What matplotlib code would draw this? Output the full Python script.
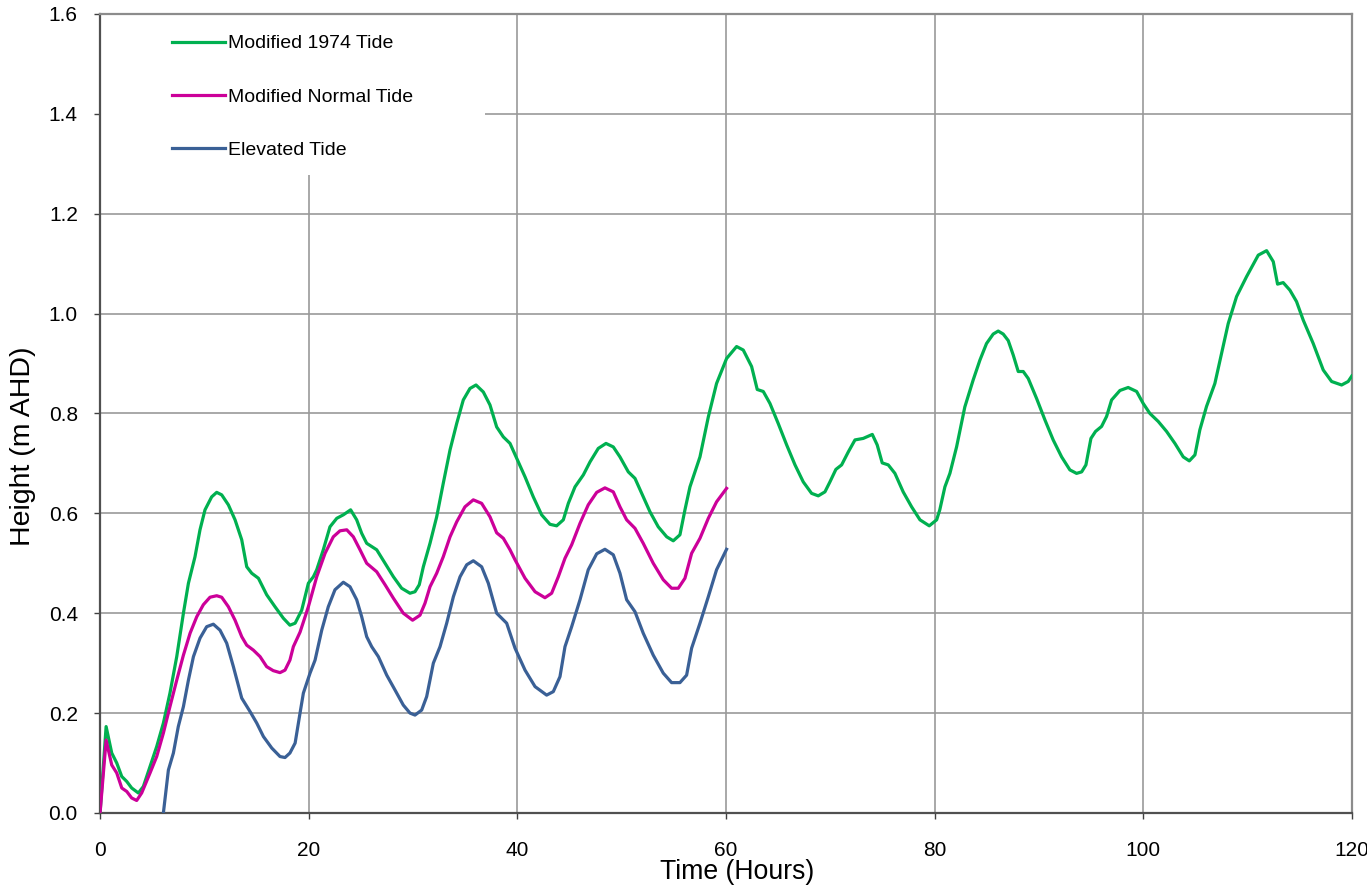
import matplotlib
matplotlib.use("Agg")
import matplotlib.pyplot as plt
from matplotlib.patches import Rectangle

plt.rcParams['font.family'] = ['Liberation Sans', 'DejaVu Sans']

# Modified 1974 Tide
t_1974 = [0, 0.58, 1.12, 1.6, 2.08, 2.56, 3.03, 3.67, 4.15, 4.79, 5.43, 6.07, 6.7, 7.35,
          7.99, 8.47, 9.1, 9.58, 10.06, 10.7, 11.18, 11.66, 12.3, 12.94, 13.58, 14.06,
          14.54, 15.18, 15.97, 16.77, 17.57, 18.2, 18.7, 19.33, 19.97, 20.45, 20.77,
          21.4, 22.04, 22.69, 23.32, 24.02, 24.6, 25.08, 25.56, 26.52, 27.32, 28.12,
          28.91, 29.71, 30.19, 30.6, 30.99, 31.63, 32.27, 32.9, 33.55, 34.19, 34.82,
          35.46, 36.04, 36.74, 37.38, 38.02, 38.66, 39.3, 39.94, 40.74, 41.53, 42.33,
          43.13, 43.77, 44.41, 44.89, 45.53, 46.33, 46.97, 47.76, 48.5, 49.2, 49.84,
          50.64, 51.28, 51.92, 52.72, 53.51, 54.32, 54.95, 55.59, 56.07, 56.55, 57.51,
          58.31, 59.1, 60.06, 61.02, 61.66, 62.46, 63.0, 63.58, 64.22, 65.01, 65.82,
          66.62, 67.41, 68.21, 68.85, 69.49, 69.97, 70.54, 71.09, 71.73, 72.37, 73.16,
          74.03, 74.5, 74.98, 75.56, 76.2, 76.99, 77.8, 78.6, 79.49, 80.2, 80.5, 80.99,
          81.47, 82.11, 82.9, 83.7, 84.35, 84.98, 85.62, 86.1, 86.58, 87.06, 87.54,
          88.02, 88.5, 88.98, 89.78, 90.58, 91.37, 92.18, 92.97, 93.61, 94.1, 94.51,
          94.99, 95.43, 96.01, 96.49, 96.97, 97.77, 98.56, 99.37, 100.0, 100.64,
          101.44, 102.24, 103.04, 103.84, 104.42, 104.96, 105.43, 106.07, 106.87,
          107.51, 108.15, 108.95, 109.91, 111.03, 111.83, 112.47, 112.88, 113.42,
          114.06, 114.7, 115.34, 116.3, 117.26, 118.06, 119.02, 119.65, 120.0]
h_1974 = [0, 0.173, 0.12, 0.10, 0.073, 0.063, 0.05, 0.04, 0.053, 0.093, 0.133, 0.18, 0.24,
          0.313, 0.40, 0.46, 0.513, 0.567, 0.607, 0.633, 0.642, 0.637, 0.617, 0.587,
          0.547, 0.493, 0.48, 0.47, 0.437, 0.413, 0.39, 0.376, 0.38, 0.406, 0.46, 0.473,
          0.487, 0.527, 0.573, 0.59, 0.597, 0.607, 0.587, 0.56, 0.54, 0.527, 0.50, 0.473,
          0.45, 0.44, 0.443, 0.457, 0.493, 0.54, 0.593, 0.66, 0.727, 0.78, 0.827, 0.85,
          0.857, 0.843, 0.817, 0.773, 0.753, 0.74, 0.71, 0.673, 0.633, 0.597, 0.578,
          0.575, 0.587, 0.62, 0.653, 0.677, 0.703, 0.73, 0.74, 0.733, 0.713, 0.683, 0.67,
          0.64, 0.603, 0.573, 0.553, 0.545, 0.557, 0.607, 0.653, 0.713, 0.793, 0.86,
          0.91, 0.934, 0.927, 0.894, 0.848, 0.844, 0.82, 0.78, 0.737, 0.697, 0.663, 0.64,
          0.635, 0.643, 0.663, 0.688, 0.697, 0.723, 0.747, 0.75, 0.758, 0.737, 0.701,
          0.697, 0.68, 0.643, 0.613, 0.587, 0.575, 0.587, 0.607, 0.653, 0.68, 0.733,
          0.813, 0.867, 0.907, 0.94, 0.959, 0.965, 0.959, 0.946, 0.917, 0.884, 0.884,
          0.87, 0.83, 0.787, 0.747, 0.713, 0.687, 0.68, 0.683, 0.697, 0.75, 0.764, 0.774,
          0.794, 0.827, 0.846, 0.852, 0.844, 0.82, 0.80, 0.784, 0.764, 0.74, 0.713,
          0.705, 0.717, 0.767, 0.814, 0.86, 0.92, 0.98, 1.034, 1.074, 1.117, 1.126,
          1.104, 1.059, 1.062, 1.047, 1.024, 0.987, 0.94, 0.887, 0.864, 0.857, 0.864,
          0.875]

# Modified Normal Tide
t_normal = [0, 0.58, 1.12, 1.6, 2.08, 2.56, 3.03, 3.51, 3.99, 4.79, 5.43, 6.07, 6.7, 7.35,
            7.99, 8.63, 9.27, 9.9, 10.54, 11.18, 11.66, 12.3, 12.94, 13.58, 14.06, 14.7,
            15.34, 15.97, 16.6, 17.25, 17.73, 18.2, 18.53, 19.17, 19.97, 20.77, 21.57,
            22.36, 23.0, 23.65, 24.28, 24.92, 25.56, 26.52, 27.32, 28.12, 29.07, 29.96,
            30.67, 31.15, 31.63, 32.27, 32.9, 33.55, 34.19, 34.98, 35.78, 36.58, 37.38,
            38.02, 38.66, 39.3, 39.78, 40.74, 41.7, 42.65, 43.29, 43.93, 44.57, 45.21,
            46.01, 46.8, 47.61, 48.4, 49.2, 49.84, 50.48, 51.28, 52.07, 53.03, 53.99,
            54.79, 55.43, 56.07, 56.71, 57.51, 58.31, 59.1, 60.06]
h_normal = [0, 0.146, 0.096, 0.08, 0.05, 0.043, 0.03, 0.025, 0.04, 0.08, 0.113, 0.16,
            0.213, 0.266, 0.316, 0.36, 0.393, 0.417, 0.432, 0.435, 0.432, 0.413, 0.386,
            0.353, 0.336, 0.326, 0.313, 0.293, 0.285, 0.281, 0.286, 0.306, 0.333, 0.362,
            0.413, 0.473, 0.52, 0.553, 0.565, 0.567, 0.553, 0.527, 0.50, 0.483, 0.457,
            0.43, 0.40, 0.386, 0.396, 0.42, 0.453, 0.48, 0.513, 0.553, 0.583, 0.613,
            0.627, 0.62, 0.593, 0.561, 0.55, 0.527, 0.507, 0.47, 0.443, 0.431, 0.44,
            0.473, 0.51, 0.537, 0.58, 0.617, 0.642, 0.651, 0.643, 0.613, 0.587, 0.57,
            0.54, 0.50, 0.467, 0.45, 0.45, 0.47, 0.52, 0.55, 0.59, 0.623, 0.65]

# Elevated Tide
t_elev = [6.07, 6.55, 7.03, 7.5, 7.99, 8.47, 8.95, 9.58, 10.22, 10.86, 11.5, 12.14,
          12.78, 13.58, 14.38, 15.02, 15.66, 16.46, 17.25, 17.73, 18.2, 18.7, 19.17,
          19.49, 20.13, 20.61, 21.25, 21.88, 22.52, 23.32, 23.96, 24.6, 25.08, 25.56,
          26.04, 26.68, 27.48, 28.28, 29.07, 29.71, 30.19, 30.83, 31.31, 31.95, 32.59,
          33.23, 33.87, 34.51, 35.15, 35.78, 36.58, 37.22, 38.02, 38.98, 39.78, 40.74,
          41.7, 42.81, 43.45, 44.09, 44.57, 45.21, 46.01, 46.8, 47.61, 48.4, 49.2,
          49.84, 50.48, 51.28, 52.07, 53.03, 53.99, 54.79, 55.59, 56.23, 56.71, 57.51,
          58.31, 59.1, 60.06]
h_elev = [0, 0.086, 0.12, 0.173, 0.213, 0.266, 0.313, 0.35, 0.373, 0.378, 0.366, 0.34,
          0.293, 0.23, 0.203, 0.18, 0.153, 0.13, 0.113, 0.111, 0.12, 0.14, 0.2, 0.24,
          0.28, 0.306, 0.366, 0.413, 0.447, 0.462, 0.453, 0.427, 0.393, 0.353, 0.333,
          0.313, 0.276, 0.246, 0.216, 0.2, 0.196, 0.206, 0.233, 0.3, 0.333, 0.38, 0.433,
          0.473, 0.497, 0.505, 0.493, 0.46, 0.40, 0.38, 0.33, 0.286, 0.253, 0.236, 0.243,
          0.273, 0.333, 0.373, 0.427, 0.487, 0.519, 0.528, 0.517, 0.48, 0.427, 0.403,
          0.36, 0.316, 0.28, 0.261, 0.261, 0.276, 0.33, 0.38, 0.433, 0.487, 0.528]

x_ticks = [0, 20, 40, 60, 80, 100, 120]
y_ticks = [0.0, 0.2, 0.4, 0.6, 0.8, 1.0, 1.2, 1.4, 1.6]

fig = plt.figure(figsize=(13.67, 8.88), dpi=100)
ax = fig.add_axes([0.0732, 0.0845, 0.9157, 0.8998])

ax.plot(t_1974, h_1974, color='#00B050', lw=2.3, label='Modified 1974 Tide', zorder=3)
ax.plot(t_normal, h_normal, color='#CC0099', lw=2.3, label='Modified Normal Tide', zorder=3)
ax.plot(t_elev, h_elev, color='#3A6096', lw=2.3, label='Elevated Tide', zorder=3)

ax.set_xlim(0, 120)
ax.set_ylim(0, 1.6)
ax.set_xticks(x_ticks)
ax.set_yticks(y_ticks)
ax.set_yticklabels([f'{v:.1f}' for v in y_ticks])
ax.grid(True, color='#999999', lw=1.2)
ax.set_axisbelow(True)

for s in ['left', 'bottom']:
    ax.spines[s].set_color('#505050')
    ax.spines[s].set_linewidth(1.6)
for s in ['top', 'right']:
    ax.spines[s].set_color('#8c8c8c')
    ax.spines[s].set_linewidth(1.6)

ax.tick_params(axis='both', direction='out', length=4, width=1, colors='#404040',
               labelcolor='black', labelsize=15)
ax.tick_params(axis='x', pad=16)
ax.tick_params(axis='y', pad=12)

ax.set_xlabel('Time (Hours)', fontsize=19.2)
ax.set_ylabel('Height (m AHD)', fontsize=20.5)
ax.xaxis.set_label_coords(0.509, -0.057)
ax.yaxis.set_label_coords(-0.051, 0.459)

# white legend area hiding the grid
ax.add_patch(Rectangle((0, 0.7985), 0.3075, 0.2015, transform=ax.transAxes,
                       facecolor='white', edgecolor='none', zorder=1.5))
ax.legend(loc='upper left', bbox_to_anchor=(0.0575, 0.974), frameon=False,
          fontsize=14, handlelength=2.7, handletextpad=0.2, labelspacing=1.83,
          borderpad=0, borderaxespad=0)

fig.savefig('out.png', dpi=100)
